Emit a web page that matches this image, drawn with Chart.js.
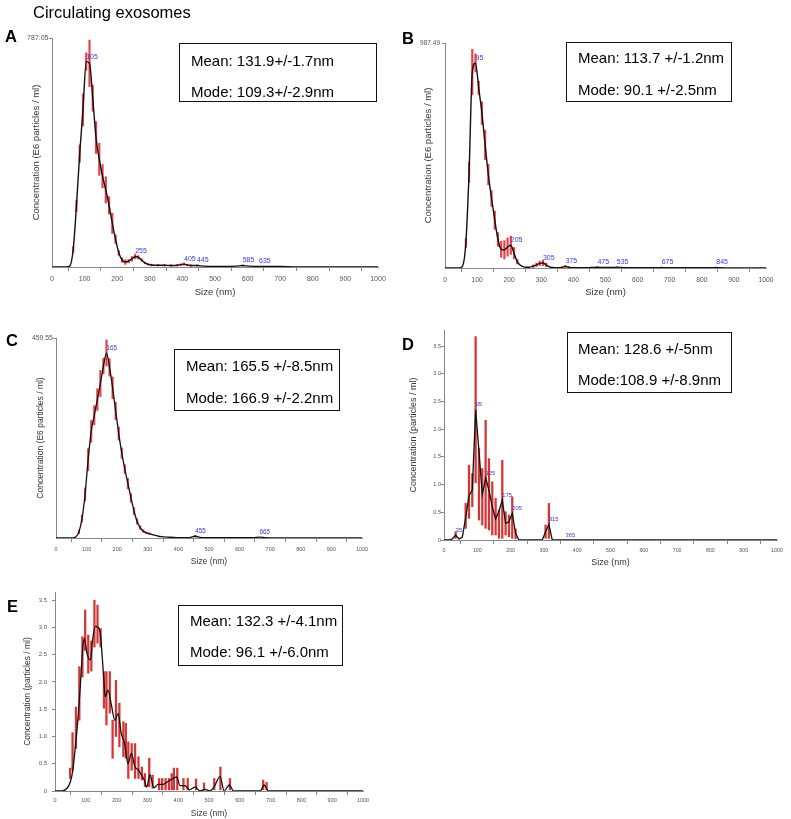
<!DOCTYPE html>
<html>
<head>
<meta charset="utf-8">
<script src="https://cdn.jsdelivr.net/npm/chart.js@4.4.1/dist/chart.umd.min.js"></script>
<style>
  body { margin: 0; background: #fff; }
  #page { position: relative; width: 791px; height: 819px; overflow: hidden; font-family: Arial, "Liberation Sans", sans-serif; }
  #page canvas { position: absolute; left: 0; top: 0; }
  .t { position: absolute; line-height: 1; white-space: nowrap; color: #000; }
  .lbl { font-weight: bold; font-size: 16.5px; }
  .stat { font-size: 15px; }
  .box { position: absolute; border: 1.5px solid #111; box-sizing: border-box; }
</style>
</head>
<body>
<div id="page">
  <canvas id="chartA" width="791" height="819"></canvas>
  <canvas id="chartB" width="791" height="819"></canvas>
  <canvas id="chartC" width="791" height="819"></canvas>
  <canvas id="chartD" width="791" height="819"></canvas>
  <canvas id="chartE" width="791" height="819"></canvas>

  <div class="t" style="left:33px;top:4px;font-size:16.5px;">Circulating exosomes</div>

  <div class="t lbl" style="left:5px;top:28px;">A</div>
  <div class="t lbl" style="left:402px;top:30px;">B</div>
  <div class="t lbl" style="left:6px;top:332px;">C</div>
  <div class="t lbl" style="left:402px;top:336px;">D</div>
  <div class="t lbl" style="left:7px;top:598px;">E</div>

  <div class="box" style="left:179px;top:43px;width:198px;height:59px;"></div>
  <div class="t stat" style="left:191px;top:53px;">Mean: 131.9+/-1.7nm</div>
  <div class="t stat" style="left:191px;top:84px;">Mode: 109.3+/-2.9nm</div>

  <div class="box" style="left:566px;top:42px;width:166px;height:60px;"></div>
  <div class="t stat" style="left:578px;top:50px;">Mean: 113.7 +/-1.2nm</div>
  <div class="t stat" style="left:578px;top:82px;">Mode: 90.1 +/-2.5nm</div>

  <div class="box" style="left:174px;top:349px;width:166px;height:62px;"></div>
  <div class="t stat" style="left:186px;top:358px;">Mean: 165.5 +/-8.5nm</div>
  <div class="t stat" style="left:186px;top:390px;">Mode: 166.9 +/-2.2nm</div>

  <div class="box" style="left:567px;top:332px;width:165px;height:61px;"></div>
  <div class="t stat" style="left:578px;top:341px;">Mean: 128.6 +/-5nm</div>
  <div class="t stat" style="left:578px;top:372px;">Mode:108.9 +/-8.9nm</div>

  <div class="box" style="left:178px;top:605px;width:165px;height:61px;"></div>
  <div class="t stat" style="left:190px;top:613px;">Mean: 132.3 +/-4.1nm</div>
  <div class="t stat" style="left:190px;top:644px;">Mode: 96.1 +/-6.0nm</div>
</div>

<script>
const FONT = 'Arial, "Liberation Sans", sans-serif';

// shared x ticks (nm)
const xTicks = [0, 100, 200, 300, 400, 500, 600, 700, 800, 900, 1000];

// --- A: E6 particles / ml ---
const sizesA = [0, 45, 55, 65, 75, 85, 95, 105, 115, 125, 135, 145, 155, 165, 175, 185, 195, 205, 215, 225,
  235, 245, 255, 265, 275, 285, 295, 305, 325, 345, 365, 385, 395, 405, 415, 425, 445, 465, 495, 535,
  565, 585, 605, 635, 665, 700, 760, 800, 1000];
const concA = [0, 0, 4, 60, 210, 390, 540, 706, 700, 580, 445, 370, 312, 265, 212, 150, 95, 48, 24, 17,
  20, 28, 36, 33, 24, 14, 9, 7, 6, 6, 5, 6, 8, 10, 7, 5, 5, 3, 2, 2,
  3, 5, 3, 2, 2, 1.5, 0, 0, 0];
const errA = [0, 0, 0, 10, 20, 30, 55, 30, 80, 45, 55, 55, 40, 45, 30, 35, 15, 8, 8, 8,
  6, 8, 8, 6, 4, 3, 3, 3, 3, 3, 3, 3, 3, 4, 3, 3, 3, 0, 0, 0,
  0, 2, 0, 0, 0, 0, 0, 0, 0];
const peaksA = [105, 255, 405, 445, 585, 635];
const yTicksA = [787.05];

// --- B ---
const sizesB = [0, 45, 55, 65, 75, 85, 95, 105, 115, 125, 135, 145, 155, 165, 175, 185, 195, 205, 215, 225,
  235, 245, 255, 265, 275, 285, 295, 305, 315, 325, 335, 355, 365, 375, 385, 395, 425, 455, 475, 495,
  525, 535, 545, 600, 665, 675, 685, 740, 835, 845, 855, 900, 1000];
const concB = [0, 0, 10, 110, 420, 860, 900, 790, 680, 540, 410, 305, 210, 125, 82, 80, 92, 100, 65, 28,
  12, 5, 3, 4, 8, 14, 20, 22, 14, 5, 2, 1, 3, 7, 4, 1, 1, 2, 3, 2,
  2, 4, 2, 1, 1, 2, 1, 1, 1, 2, 1, 0, 0];
const errB = [0, 0, 0, 20, 45, 100, 40, 30, 50, 65, 45, 35, 40, 30, 35, 40, 40, 40, 25, 10,
  0, 0, 0, 0, 6, 8, 10, 12, 8, 0, 0, 0, 3, 5, 3, 0, 0, 0, 2, 0,
  0, 2, 0, 0, 0, 0, 0, 0, 0, 0, 0, 0, 0];
const peaksB = [95, 205, 305, 375, 475, 535, 675, 845];
const yTicksB = [987.49];

// --- C ---
const sizesC = [0, 55, 65, 75, 85, 95, 105, 115, 125, 135, 145, 155, 165, 175, 185, 195, 205, 215, 225, 235,
  245, 255, 265, 275, 285, 295, 305, 315, 325, 335, 345, 365, 395, 435, 455, 475, 545, 645, 665, 685,
  760, 1000];
const concC = [0, 0, 3, 14, 45, 100, 180, 245, 282, 318, 355, 395, 425, 392, 345, 292, 240, 195, 158, 125,
  92, 62, 38, 24, 16, 12, 10, 8, 6, 4, 3, 2, 1, 1, 4, 1, 1, 1, 2, 1,
  0, 0];
const errC = [0, 0, 0, 4, 8, 15, 25, 25, 22, 25, 30, 18, 30, 20, 25, 20, 15, 12, 10, 12,
  10, 8, 6, 4, 3, 2, 2, 0, 0, 0, 0, 0, 0, 0, 2, 0, 0, 0, 0, 0,
  0, 0];
const peaksC = [165, 455, 665];
const yTicksC = [459.55];

// --- D: particles / ml ---
const sizesD = [0, 15, 25, 35, 45, 55, 65, 75, 85, 95, 105, 115, 125, 135, 145, 155, 165, 175, 185, 195,
  205, 215, 225, 295, 305, 315, 325, 1000];
const concD = [0, 0, 0.02, 0.09, 0.02, 0.05, 0.4, 0.8, 0.9, 2.35, 1.6, 0.82, 1.12, 0.9, 0.6, 0.38, 0.52, 0.72, 0.3, 0.33,
  0.48, 0.12, 0, 0, 0.15, 0.28, 0, 0];
const barXD = [35, 65, 75, 85, 95, 105, 115, 125, 135, 145, 155, 165, 175, 185, 195, 205, 215, 305, 315];
const barLoD = [0.03, 0.21, 0.39, 0.6, 1.03, 0.36, 0.27, 0.21, 0.18, 0.09, 0.09, 0.03, 0.03, 0.09, 0.06, 0.03, 0.02, 0.03, 0.03];
const barHiD = [0.15, 0.66, 1.35, 1.2, 3.67, 1.65, 1.29, 2.16, 1.47, 1.05, 0.75, 0.54, 1.44, 0.51, 0.45, 0.78, 0.2, 0.27, 0.66];
const peaksD = [35, 95, 125, 175, 205, 315, 365];
const yTicksD = [0, 0.5, 1, 1.5, 2, 2.5, 3, 3.5];

// --- E ---
const sizesE = [0, 23, 39, 50, 57, 66, 75, 82, 90, 95, 104, 115, 122, 131, 140, 147, 158, 163, 172, 183,
  194, 205, 215, 226, 237, 248, 259, 270, 281, 290, 298, 308, 321, 335, 351, 368, 384, 395, 406, 422,
  436, 455, 471, 487, 503, 517, 536, 549, 566, 580, 666, 679, 693, 1000];
const concE = [0, 0, 0.05, 0.17, 0.35, 0.81, 1.36, 1.91, 2.61, 2.8, 2.52, 2.4, 2.77, 3.02, 3.0, 2.89, 2.09, 1.73, 1.85, 1.58,
  1.3, 1.42, 1.06, 0.87, 0.5, 0.69, 0.45, 0.39, 0.29, 0.2, 0.07, 0.3, 0.06, 0.12, 0.12, 0.18, 0.23, 0.26, 0.1, 0.1,
  0.02, 0.07, 0, 0.03, 0, 0.08, 0.27, 0, 0.11, 0, 0, 0.11, 0, 0];
const barXE = [49, 57, 68, 79, 89, 98, 108, 118, 128, 138, 148, 159, 167, 178, 187, 198, 209, 222, 230, 238,
  249, 260, 271, 282, 292, 306, 317, 338, 348, 359, 370, 379, 386, 397, 417, 431, 458, 484, 517, 537,
  568, 676, 687];
const barLoE = [0.23, 0.38, 0.78, 1.30, 2.09, 2.58, 2.16, 2.2, 2.64, 2.71, 2.64, 1.52, 1.21, 1.43, 0.6, 1.0, 0.81, 0.63, 0.6, 0.23,
  0.38, 0.23, 0.23, 0.2, 0.08, 0.08, 0.05, 0.02, 0.02, 0.02, 0.02, 0.02, 0.02, 0.02, 0.02, 0.02, 0.02, 0, 0.02, 0.02,
  0.02, 0.02, 0.02];
const barHiE = [0.42, 1.07, 1.54, 2.28, 2.83, 3.32, 2.86, 2.75, 3.5, 3.41, 2.98, 2.19, 2.19, 2.19, 1.30, 2.03, 1.61, 1.27, 1.24, 0.9,
  0.87, 0.87, 0.63, 0.44, 0.32, 0.6, 0.29, 0.23, 0.23, 0.23, 0.23, 0.32, 0.42, 0.42, 0.23, 0.23, 0.22, 0.15, 0.23, 0.44,
  0.23, 0.2, 0.16];
const yTicksE = [0, 0.5, 1, 1.5, 2, 2.5, 3, 3.5];

// centred error bars (half widths), 0 = no bar
function centredBars(xs, ys, err) {
  return xs.map((x, i) => ({ x: x, y: [Math.max(0, ys[i] - err[i]), ys[i] + err[i]], e: err[i] }))
    .filter(p => p.e > 0);
}
function rangeBars(xs, lo, hi) {
  return xs.map((x, i) => ({ x: x, y: [lo[i], hi[i]] }));
}
function valueAt(xs, ys, x) {
  for (let i = 1; i < xs.length; i++) {
    if (x <= xs[i]) {
      const f = (x - xs[i - 1]) / (xs[i] - xs[i - 1]);
      return ys[i - 1] + f * (ys[i] - ys[i - 1]);
    }
  }
  return ys[ys.length - 1];
}

// blue peak size labels
function peakPlugin(peaks, sizes, conc, fontSize) {
  return {
    id: 'peakLabels',
    afterDatasetsDraw(chart) {
      if (!peaks.length) return;
      const ctx = chart.ctx, sx = chart.scales.x, sy = chart.scales.y;
      ctx.save();
      ctx.font = fontSize + 'px ' + FONT;
      ctx.fillStyle = '#3b3bd4';
      ctx.textBaseline = 'middle';
      ctx.textAlign = 'left';
      peaks.forEach(p => {
        const v = valueAt(sizes, conc, p);
        ctx.fillText(String(p), sx.getPixelForValue(p), sy.getPixelForValue(v) - 5);
      });
      ctx.restore();
    }
  };
}

function makePanel(id, lay, sizes, conc, bars, peaks) {
  const yW = 40;
  const titleLH = lay.titleSize * 1.2;
  new Chart(document.getElementById(id), {
    type: 'line',
    data: {
      datasets: [
        {
          type: 'line',
          data: sizes.map((x, i) => ({ x: x, y: conc[i] })),
          borderColor: '#111',
          borderWidth: lay.lineW,
          pointRadius: 0,
          tension: lay.tension,
          cubicInterpolationMode: lay.tension ? 'monotone' : 'default',
          order: 0
        },
        {
          type: 'bar',
          data: bars,
          backgroundColor: lay.barColor,
          barThickness: lay.barW,
          order: 1
        }
      ]
    },
    options: {
      responsive: false,
      animation: false,
      events: [],
      layout: { padding: { left: lay.l - yW, top: lay.t, right: 791 - lay.r, bottom: 819 - lay.b - lay.xH } },
      plugins: { legend: { display: false }, tooltip: { enabled: false } },
      scales: {
        x: {
          type: 'linear', min: 0, max: 1000, offset: false,
          afterBuildTicks: s => { s.ticks = xTicks.map(v => ({ value: v })); },
          afterFit: s => { s.height = lay.xH; },
          grid: { drawOnChartArea: false, tickLength: 4, color: '#888' },
          border: { color: '#888' },
          ticks: { font: { size: lay.tickSize, family: FONT }, color: '#555', padding: lay.xPad,
                   maxRotation: 0, autoSkip: false, callback: v => String(v) },
          title: { display: true, text: 'Size (nm)', color: '#333',
                   font: { size: lay.titleSize, family: FONT }, padding: 0 }
        },
        y: {
          type: 'linear', min: 0, max: lay.yMax,
          afterBuildTicks: s => { s.ticks = lay.yTicks.map(v => ({ value: v })); },
          afterFit: s => { s.width = yW; },
          grid: { drawOnChartArea: false, tickLength: 3, color: '#888' },
          border: { color: '#888' },
          ticks: { font: { size: lay.yTickSize, family: FONT }, color: '#555', padding: lay.yPad,
                   autoSkip: false, callback: lay.fmt },
          title: { display: true, text: lay.yTitle, color: '#333',
                   font: { size: lay.titleSize, family: FONT },
                   padding: { top: lay.yTitleX - (lay.l - yW) - titleLH / 2, bottom: 0 } }
        }
      }
    },
    plugins: [peakPlugin(peaks, sizes, conc, lay.peakSize)]
  });
}

const fmtMax = v => v.toFixed(2);
const fmtHalf = v => (v === 0 ? '0' : v.toFixed(1));
const E6 = 'Concentration (E6 particles / ml)';
const PM = 'Concentration (particles / ml)';

makePanel('chartA', { l: 52, r: 378, t: 38, b: 267, xH: 31, xPad: 4, tickSize: 7, yTickSize: 7, titleSize: 9.5,
  yTitleX: 36.5, yPad: 0.5, yMax: 787.05, yTicks: yTicksA, fmt: fmtMax, yTitle: E6,
  lineW: 1.4, tension: 0.4, barColor: 'rgba(228,30,36,0.85)', barW: 1.5, peakSize: 7 },
  sizesA, concA, centredBars(sizesA, concA, errA), peaksA);

makePanel('chartB', { l: 445, r: 766, t: 43, b: 268, xH: 30.4, xPad: 3.8, tickSize: 6.7, yTickSize: 6.5, titleSize: 9.5,
  yTitleX: 428.3, yPad: 2, yMax: 987.49, yTicks: yTicksB, fmt: fmtMax, yTitle: E6,
  lineW: 1.4, tension: 0.4, barColor: 'rgba(228,30,36,0.85)', barW: 1.5, peakSize: 7 },
  sizesB, concB, centredBars(sizesB, concB, errB), peaksB);

makePanel('chartC', { l: 56, r: 362, t: 338, b: 538, xH: 28.4, xPad: 3.7, tickSize: 5.5, yTickSize: 6.8, titleSize: 8.5,
  yTitleX: 40.7, yPad: 0.3, yMax: 459.55, yTicks: yTicksC, fmt: fmtMax, yTitle: E6,
  lineW: 1.3, tension: 0.4, barColor: 'rgba(228,30,36,0.85)', barW: 1.5, peakSize: 6.4 },
  sizesC, concC, centredBars(sizesC, concC, errC), peaksC);

makePanel('chartD', { l: 444, r: 777, t: 330, b: 540, xH: 28.4, xPad: 3.5, tickSize: 5.3, yTickSize: 5.5, titleSize: 9,
  yTitleX: 413.3, yPad: 0, yMax: 3.79, yTicks: yTicksD, fmt: fmtHalf, yTitle: PM,
  lineW: 1.3, tension: 0, barColor: 'rgba(210,31,31,0.9)', barW: 1.6, peakSize: 5.8 },
  sizesD, concD, rangeBars(barXD, barLoD, barHiD), peaksD);

makePanel('chartE', { l: 55, r: 363, t: 592, b: 791, xH: 27.4, xPad: 2.4, tickSize: 5.5, yTickSize: 6, titleSize: 8.5,
  yTitleX: 27.3, yPad: 5, yMax: 3.65, yTicks: yTicksE, fmt: fmtHalf, yTitle: PM,
  lineW: 1.3, tension: 0.15, barColor: 'rgba(210,31,31,0.9)', barW: 1.6, peakSize: 6 },
  sizesE, concE, rangeBars(barXE, barLoE, barHiE), []);
</script>
</body>
</html>
